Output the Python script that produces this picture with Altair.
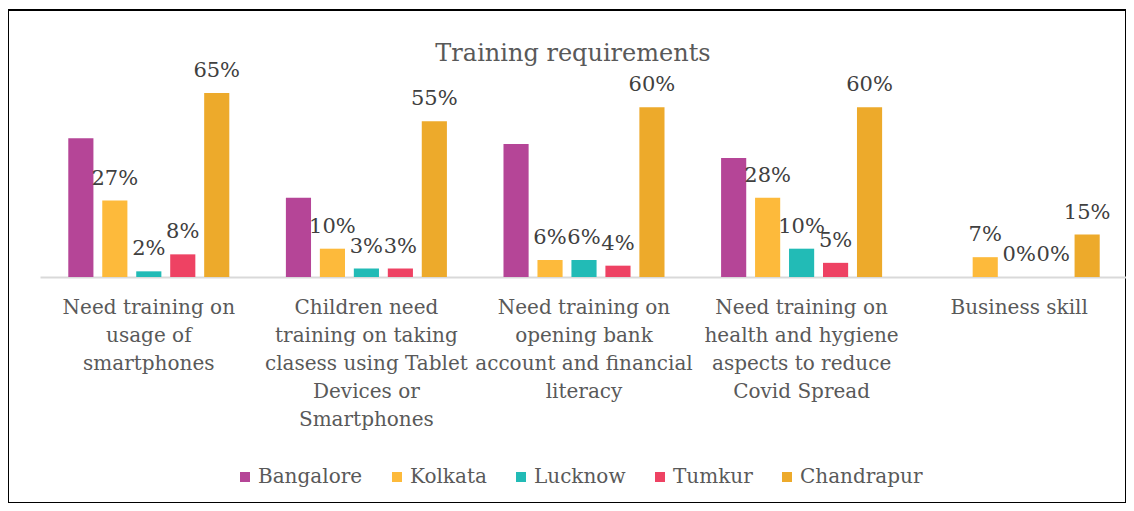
import altair as alt
import pandas as pd

categories = [
    "Need training on|usage of|smartphones",
    "Children need|training on taking|clasess using Tablet|Devices or|Smartphones",
    "Need training on|opening bank|account and financial|literacy",
    "Need training on|health and hygiene|aspects to reduce|Covid Spread",
    "Business skill",
]
series = ["Bangalore", "Kolkata", "Lucknow", "Tumkur", "Chandrapur"]
bangalore = [49, 28, 47, 42, None]
kolkata = [27, 10, 6, 28, 7]
lucknow = [2, 3, 6, 10, 0]
tumkur = [8, 3, 4, 5, 0]
chandrapur = [65, 55, 60, 60, 15]
colors = ["#B54597", "#FDBA3B", "#22BBB6", "#EE4263", "#EDAA2B"]

rows = []
for s, vals in zip(series, [bangalore, kolkata, lucknow, tumkur, chandrapur]):
    for c, v in zip(categories, vals):
        if v is None:
            continue
        rows.append({"category": c, "city": s, "value": v,
                     "label": "" if s == "Bangalore" else f"{v}%"})
df = pd.DataFrame(rows)

FONT = "DejaVu Serif"

x = alt.X(
    "category:N", sort=categories,
    scale=alt.Scale(range=[32, 1120], paddingInner=0.26, paddingOuter=0.13),
    axis=alt.Axis(title=None, orient="bottom", offset=-226, labelAngle=0,
                  labelExpr="split(datum.label, '|')", labelFont=FONT,
                  labelFontSize=20, labelColor="#595959", labelLineHeight=28,
                  labelPadding=20, labelLimit=400, labelOverlap=False,
                  ticks=False, domainColor="#D9D9D9", domainWidth=2),
)
xo = alt.XOffset("city:N", sort=series,
                 scale=alt.Scale(paddingInner=0.26, paddingOuter=0))
y = alt.Y("value:Q", stack=None,
          scale=alt.Scale(domain=[-79.84, 94.32], nice=False, zero=False),
          axis=None)

base = alt.Chart(df)
bars = base.mark_bar().encode(
    x=x, xOffset=xo, y=y,
    color=alt.Color(
        "city:N", sort=series,
        scale=alt.Scale(domain=series, range=colors),
        legend=alt.Legend(title=None, orient="none", legendX=227, legendY=457,
                          direction="horizontal", symbolType="square",
                          symbolSize=100, symbolStrokeWidth=0,
                          labelFont=FONT, labelFontSize=20,
                          labelColor="#595959", columnPadding=24,
                          labelOffset=3),
    ),
)
labels = base.mark_text(dy=-16, baseline="alphabetic", font=FONT,
                        fontSize=21, color="#404040").encode(
    x=x, xOffset=xo, y=y, text="label:N"
)

chart = alt.layer(bars, labels).properties(
    width=1118, height=493,
    autosize=alt.AutoSizeParams(type="none"),
    padding={"left": 0, "top": 2, "right": 0, "bottom": 0},
    background="white",
    title=alt.Title("Training requirements", font=FONT, fontSize=24,
                    color="#595959", fontWeight="normal", orient="top",
                    anchor="middle", offset=-75, baseline="alphabetic",
                    frame="group", dx=6),
).configure_view(stroke="#000000", strokeWidth=2)

chart.save("out.html", embed_options={"renderer": "svg", "actions": False})
